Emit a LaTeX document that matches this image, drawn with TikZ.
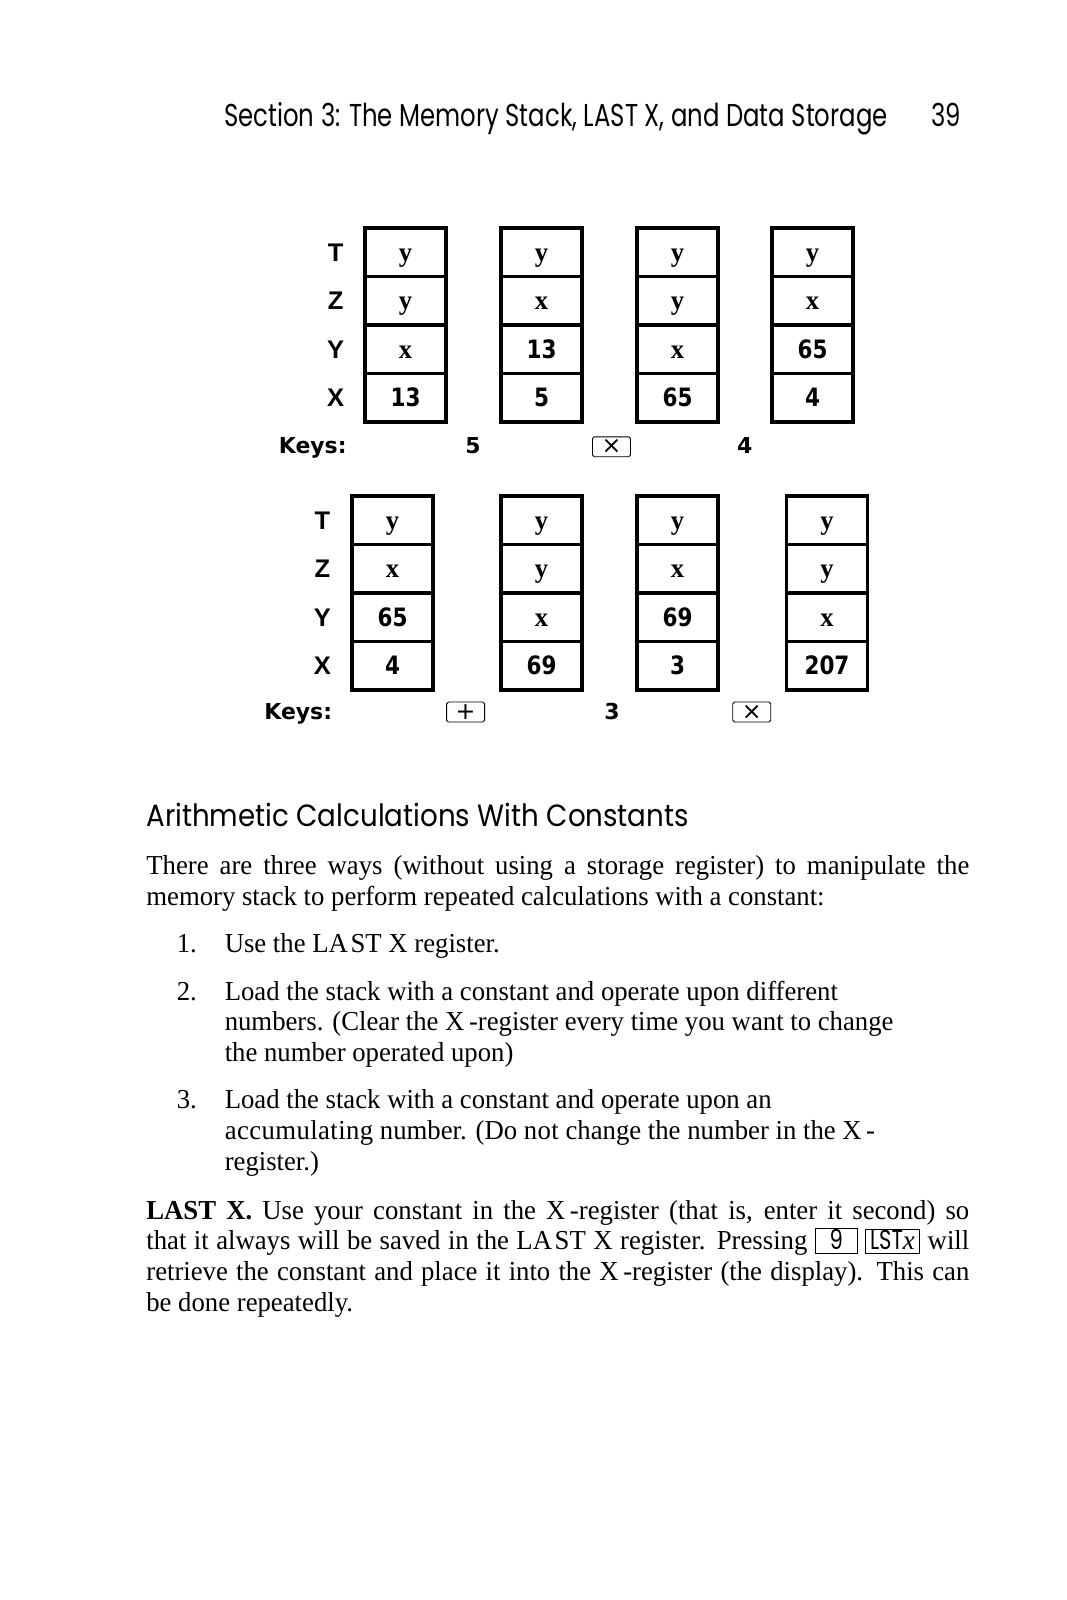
\documentclass[tikz,border=0pt]{standalone}
\usepackage{fontspec}
\setmainfont{Liberation Serif}[FakeStretch=0.975]
\newfontfamily\futurafont{Poppins}[FakeStretch=0.77]
\newfontfamily\headingfont{Poppins}[FakeStretch=0.9]
\newfontfamily\regfont{Liberation Sans}
\newfontfamily\digitfont{DejaVu Sans}[FakeStretch=0.85]
\newfontfamily\keyfont{DejaVu Sans}
\newlength\bodywidth
\setlength\bodywidth{468.4pt}
\newcommand\bodysize{\fontsize{15.6}{18.5}\selectfont}
\newcommand\inlinekey[2]{{\setlength\fboxsep{0pt}\setlength\fboxrule{0.5pt}\fbox{\rule[-2.5pt]{0pt}{11.5pt}\makebox[#1]{#2}}}}
\tikzset{
  cell/.style={draw, line width=1.88pt, minimum width=1.62cm, minimum height=0.97cm,
    inner sep=0pt, outer sep=0pt, text height=0.36cm, text depth=0cm},
  var/.style={cell, font=\fontsize{15.5}{16}\selectfont\bfseries},
  num/.style={cell, font=\digitfont\bfseries\fontsize{14.4}{16}\selectfont},
  reg/.style={font=\regfont\bfseries\fontsize{14.5}{16}\selectfont, inner sep=0pt,
    text height=0.36cm, text depth=0cm},
  keys/.style={font=\keyfont\bfseries\fontsize{12.5}{14}\selectfont, inner sep=0pt, anchor=base},
  keycap/.style={draw, line width=0.5pt, rounded corners=1pt, minimum width=0.76cm,
    minimum height=0.4cm, inner sep=0pt, font=\keyfont\fontsize{13.5}{14}\selectfont},
  body/.style={font=\bodysize, inner sep=0pt, anchor=base west},
  sans/.style={font=\futurafont\fontsize{#1}{20}\selectfont, inner sep=0pt, anchor=base west},
}
\begin{document}
\begin{tikzpicture}[x=0.02cm, y=-0.02cm]
  \useasboundingbox (0,0) rectangle (1067,1600);
  % running head
  \node[sans=18] (head) at (224,126) {Section 3: The Memory Stack, LAST X, and Data Storage};
  \node[sans=18] (pageno) at (931,126) {39};
  % upper stacks
  \node[reg] (uT) at (335.6,252.3) {T};
  \node[reg] (uZ) at (335.6,300.8) {Z};
  \node[reg] (uY) at (335.6,349.3) {Y};
  \node[reg] (uX) at (335.6,397.8) {X};
  \node[var] (u1t) at (405.5,252.3) {y};
  \node[var] (u1z) at (405.5,300.8) {y};
  \node[var] (u1y) at (405.5,349.3) {x};
  \node[num] (u1x) at (405.5,397.8) {13};
  \node[var] (u2t) at (541.5,252.3) {y};
  \node[var] (u2z) at (541.5,300.8) {x};
  \node[num] (u2y) at (541.5,349.3) {13};
  \node[num] (u2x) at (541.5,397.8) {5};
  \node[var] (u3t) at (677.5,252.3) {y};
  \node[var] (u3z) at (677.5,300.8) {y};
  \node[var] (u3y) at (677.5,349.3) {x};
  \node[num] (u3x) at (677.5,397.8) {65};
  \node[var] (u4t) at (812.5,252.3) {y};
  \node[var] (u4z) at (812.5,300.8) {x};
  \node[num] (u4y) at (812.5,349.3) {65};
  \node[num] (u4x) at (812.5,397.8) {4};
  \node[keys, anchor=base west] (ukeys) at (278.5,453) {Keys:};
  \node[keys] (uk1) at (473,453) {5};
  \node[keycap] (uk2) at (611.5,446.8) {×};
  \node[keys] (uk3) at (744.7,453) {4};
  % lower stacks
  \node[reg] (lT) at (322.4,520.3) {T};
  \node[reg] (lZ) at (322.4,568.8) {Z};
  \node[reg] (lY) at (322.4,617.3) {Y};
  \node[reg] (lX) at (322.4,665.8) {X};
  \node[var] (l1t) at (392.5,520.3) {y};
  \node[var] (l1z) at (392.5,568.8) {x};
  \node[num] (l1y) at (392.5,617.3) {65};
  \node[num] (l1x) at (392.5,665.8) {4};
  \node[var] (l2t) at (541.5,520.3) {y};
  \node[var] (l2z) at (541.5,568.8) {y};
  \node[var] (l2y) at (541.5,617.3) {x};
  \node[num] (l2x) at (541.5,665.8) {69};
  \node[var] (l3t) at (677.5,520.3) {y};
  \node[var] (l3z) at (677.5,568.8) {x};
  \node[num] (l3y) at (677.5,617.3) {69};
  \node[num] (l3x) at (677.5,665.8) {3};
  \node[var] (l4t) at (827,520.3) {y};
  \node[var] (l4z) at (827,568.8) {y};
  \node[var] (l4y) at (827,617.3) {x};
  \node[num] (l4x) at (827,665.8) {207};
  \node[keys, anchor=base west] (lkeys) at (264,719.5) {Keys:};
  \node[keycap] (lk1) at (465.6,712) {+};
  \node[keys] (lk2) at (612,719.5) {3};
  \node[keycap] (lk3) at (751.8,712) {×};
  % text
  \node[sans=17.5, font=\headingfont\fontsize{17.5}{20}\selectfont] (heading) at (146,826) {Arithmetic Calculations With Constants};
  \node[body] (p1a) at (146,874) {\makebox[\bodywidth][s]{There are three ways (without using a storage register) to manipulate the}};
  \node[body] (p1b) at (146,905) {memory stack to perform repeated calculations with a constant:};
  \node[body] (n1) at (176.5,952) {1.};
  \node[body] (i1a) at (224.4,952) {Use the LA\kern1.5pt ST X register.};
  \node[body] (n2) at (176.5,1000) {2.};
  \node[body] (i2a) at (224.4,1000) {Load the stack with a constant and operate upon different};
  \node[body] (i2b) at (224.4,1030) {numbers. (Clear the X\,-register every time you want to change};
  \node[body] (i2c) at (224.4,1061) {the number operated upon)};
  \node[body] (n3) at (176.5,1108) {3.};
  \node[body] (i3a) at (224.4,1108) {Load the stack with a constant and operate upon an};
  \node[body] (i3b) at (224.4,1139) {{\addfontfeatures{LetterSpace=1.5}accumulating} number. (Do {\addfontfeatures{LetterSpace=1.5}not} change the number in the X\,-};
  \node[body] (i3c) at (224.4,1170) {register.)};
  \node[body] (p2a) at (146,1219) {\makebox[\bodywidth][s]{\textbf{LAST X.} Use your constant in the X\,-register (that is, enter it second) so}};
  \node[body] (p2b) at (146,1249) {\makebox[\bodywidth][s]{that it always will be saved in the LA\kern1.5pt ST X register. Pressing \inlinekey{23.3pt}{\futurafont 9}\kern4pt\inlinekey{30.7pt}{{\futurafont LST}\textit{x}} will}};
  \node[body] (p2c) at (146,1280) {\makebox[\bodywidth][s]{retrieve the constant and place it into the X\,-register (the display). This can}};
  \node[body] (p2d) at (146,1311) {be done repeatedly.};
\end{tikzpicture}
\end{document}
